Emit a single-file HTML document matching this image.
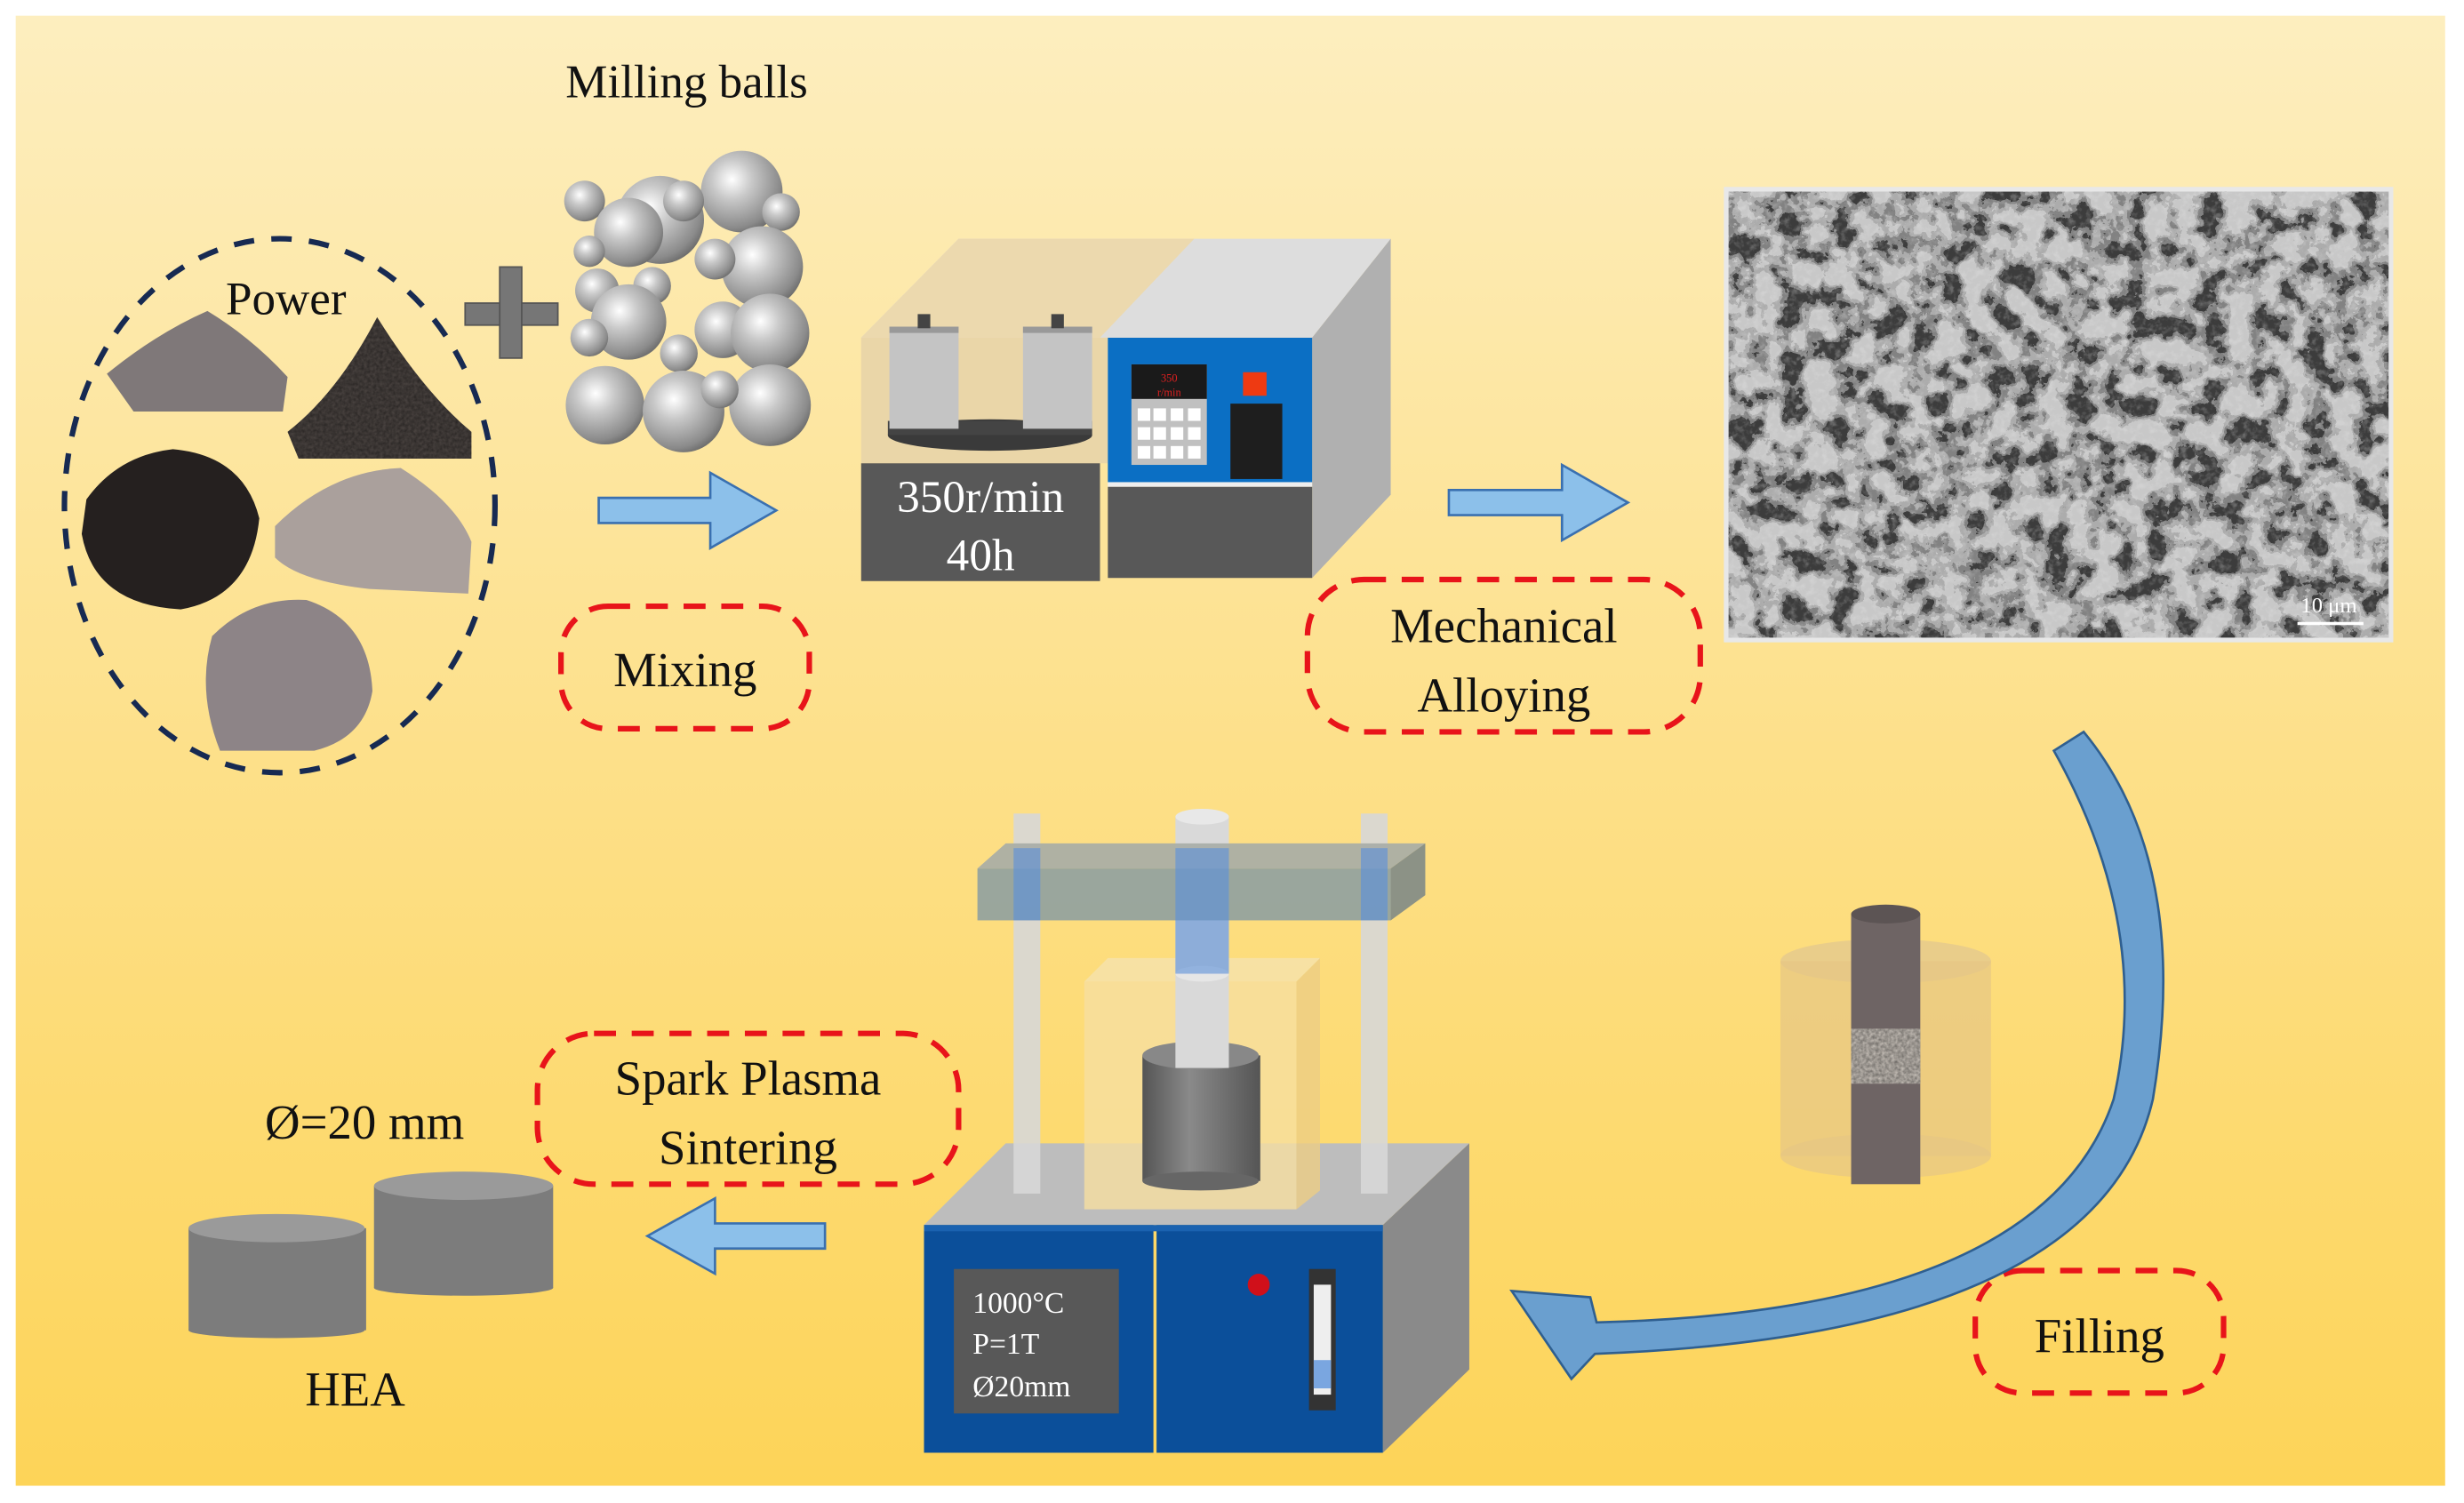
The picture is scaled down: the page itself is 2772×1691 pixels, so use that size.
<!DOCTYPE html>
<html><head><meta charset="utf-8"><style>
html,body{margin:0;padding:0;background:#fff;}
svg{display:block;}
svg text{font-family:"Liberation Serif","DejaVu Serif",serif;}
</style></head><body>
<svg width="2772" height="1691" viewBox="0 0 1568 957" preserveAspectRatio="none" xmlns="http://www.w3.org/2000/svg" font-family="Liberation Serif, DejaVu Serif, serif">
<defs>
<linearGradient id="bg" x1="0" y1="0" x2="0" y2="1">
<stop offset="0" stop-color="#fdeebf"/><stop offset="0.5" stop-color="#fde08a"/><stop offset="1" stop-color="#fdd458"/></linearGradient>
<radialGradient id="ball" cx="0.38" cy="0.35" r="0.7">
<stop offset="0" stop-color="#ffffff"/><stop offset="0.35" stop-color="#c8c8c8"/><stop offset="0.85" stop-color="#8a8a8a"/><stop offset="1" stop-color="#6a6a6a"/></radialGradient>
<linearGradient id="cyl" x1="0" y1="0" x2="1" y2="0">
<stop offset="0" stop-color="#555"/><stop offset="0.4" stop-color="#8a8a8a"/><stop offset="1" stop-color="#555"/></linearGradient>
<filter id="sem" x="0" y="0" width="1" height="1">
<feTurbulence type="fractalNoise" baseFrequency="0.06" numOctaves="5" seed="3"/>
<feColorMatrix type="matrix" values="0 0 0 0 0.58  0 0 0 0 0.58  0 0 0 0 0.58  1.3 1.3 1.3 0 -1.5"/>
<feComponentTransfer><feFuncA type="discrete" tableValues="0 0.5 0.8 1 1"/></feComponentTransfer>
</filter>
<filter id="sem2" x="0" y="0" width="1" height="1">
<feTurbulence type="fractalNoise" baseFrequency="0.25" numOctaves="3" seed="9"/>
<feColorMatrix type="matrix" values="0 0 0 0 0.85  0 0 0 0 0.85  0 0 0 0 0.85  1.5 1.5 1.5 0 -2.1"/>
</filter>
<filter id="grain"><feTurbulence type="fractalNoise" baseFrequency="0.5" numOctaves="2" seed="7"/>
<feColorMatrix type="matrix" values="0 0 0 0 0  0 0 0 0 0  0 0 0 0 0  0 0 0 0.5 0"/>
<feComposite in2="SourceGraphic" operator="in"/></filter>
</defs>
<rect x="10" y="10" width="1546" height="936" fill="url(#bg)"/>

<ellipse cx="178" cy="322" rx="137" ry="170" fill="none" stroke="#172a52" stroke-width="3.5" stroke-dasharray="13 11"/>
<text x="182" y="200" font-size="30" text-anchor="middle" fill="#111">Power</text>
<path d="M68,238 Q100,212 132,198 Q160,215 183,240 L180,262 L85,262 Z" fill="#7f7879"/>
<path d="M183,275 Q215,250 240,202 Q270,250 300,275 L300,292 L190,292 Z" fill="#4e4744"/>
<path d="M183,275 Q215,250 240,202 Q270,250 300,275 L300,292 L190,292 Z" fill="#000" filter="url(#grain)"/>
<path d="M55,318 Q75,290 110,286 Q155,290 165,330 Q160,380 115,388 Q60,385 52,340 Z" fill="#25201f"/>
<path d="M175,335 Q210,300 255,298 Q290,320 300,345 L298,378 L235,375 Q190,370 175,355 Z" fill="#aaa09c"/>
<path d="M135,405 Q160,380 195,382 Q235,395 237,440 Q232,470 200,478 L140,478 Q125,440 135,405 Z" fill="#8d8487"/>

<rect x="296" y="193" width="59" height="14" fill="#767676" stroke="#555" stroke-width="1"/>
<rect x="318" y="170" width="14" height="58" fill="#767676" stroke="#555" stroke-width="1"/>

<text x="437" y="62" font-size="30" text-anchor="middle" fill="#111">Milling balls</text>
<g fill="url(#ball)">
<circle cx="420" cy="140" r="28"/><circle cx="472" cy="122" r="26"/><circle cx="435" cy="128" r="13"/><circle cx="497" cy="135" r="12"/>
<circle cx="372" cy="128" r="13"/><circle cx="400" cy="148" r="22"/><circle cx="375" cy="160" r="10"/><circle cx="485" cy="170" r="26"/>
<circle cx="455" cy="165" r="13"/><circle cx="380" cy="185" r="14"/><circle cx="415" cy="182" r="12"/><circle cx="460" cy="210" r="18"/>
<circle cx="400" cy="205" r="24"/><circle cx="490" cy="212" r="25"/><circle cx="375" cy="215" r="12"/><circle cx="432" cy="225" r="12"/>
<circle cx="385" cy="258" r="25"/><circle cx="435" cy="262" r="26"/><circle cx="490" cy="258" r="26"/><circle cx="458" cy="248" r="12"/>
</g>

<g fill="#8cc0ea" stroke="#3a70b0" stroke-width="1.5">
<path d="M381,317 L452,317 L452,301 L494,325 L452,349 L452,333 L381,333 Z"/>
<path d="M922,312 L994,312 L994,296 L1036,320 L994,344 L994,328 L922,328 Z"/>
<path d="M525,779 L455,779 L455,763 L412,787 L455,811 L455,795 L525,795 Z"/>
</g>

<g fill="none" stroke="#e8141a" stroke-width="3.5" stroke-dasharray="14 10">
<rect x="357" y="386" width="158" height="78" rx="30"/>
<rect x="832" y="369" width="250" height="97" rx="36"/>
<rect x="342" y="658" width="268" height="96" rx="36"/>
<rect x="1257" y="809" width="158" height="78" rx="30"/>
</g>
<g font-size="31" text-anchor="middle" fill="#111">
<text x="436" y="437">Mixing</text>
<text x="957" y="409">Mechanical</text>
<text x="957" y="453">Alloying</text>
<text x="476" y="697">Spark Plasma</text>
<text x="476" y="741">Sintering</text>
<text x="1336" y="861">Filling</text>
<text x="232" y="725">Ø=20 mm</text>
<text x="226" y="895">HEA</text>
</g>

<polygon points="548,215 610,152 885,152 835,215" fill="#ddd"/>
<polygon points="548,215 610,152 760,152 700,215" fill="#ecd9ae"/>
<rect x="548" y="215" width="157" height="80" fill="#ead6a8"/>
<polygon points="835,215 885,152 885,315 835,368" fill="#b0b0b0"/>
<rect x="705" y="215" width="130" height="92" fill="#0b6fc4"/>
<rect x="705" y="210" width="130" height="5" fill="#ddd"/>
<rect x="705" y="307" width="130" height="3" fill="#eee"/>
<rect x="705" y="310" width="130" height="58" fill="#585858"/>
<rect x="720" y="232" width="48" height="64" fill="#c0c0c0"/>
<rect x="720" y="232" width="48" height="22" fill="#1a1a1a"/>
<text x="744" y="243" font-size="7" fill="#e02020" text-anchor="middle">350</text>
<text x="744" y="252" font-size="7" fill="#e02020" text-anchor="middle">r/min</text>
<g fill="#fff"><rect x="724" y="260" width="8" height="8"/><rect x="734" y="260" width="8" height="8"/><rect x="745" y="260" width="8" height="8"/><rect x="756" y="260" width="8" height="8"/>
<rect x="724" y="272" width="8" height="8"/><rect x="734" y="272" width="8" height="8"/><rect x="745" y="272" width="8" height="8"/><rect x="756" y="272" width="8" height="8"/>
<rect x="724" y="284" width="8" height="8"/><rect x="734" y="284" width="8" height="8"/><rect x="745" y="284" width="8" height="8"/><rect x="756" y="284" width="8" height="8"/></g>
<rect x="791" y="237" width="15" height="15" fill="#ee3a12"/>
<rect x="783" y="257" width="33" height="48" fill="#1e1e1e"/>
<ellipse cx="630" cy="277" rx="65" ry="10" fill="#3a3a3a"/>
<rect x="565" y="268" width="130" height="9" fill="#444"/>
<rect x="566" y="208" width="44" height="65" fill="#c4c4c4"/><rect x="566" y="208" width="44" height="4" fill="#999"/>
<rect x="651" y="208" width="44" height="65" fill="#c4c4c4"/><rect x="651" y="208" width="44" height="4" fill="#999"/>
<rect x="584" y="200" width="8" height="9" fill="#444"/><rect x="669" y="200" width="8" height="9" fill="#444"/>
<rect x="548" y="295" width="152" height="75" fill="#585858"/>
<text x="624" y="326" font-size="29" fill="#fff" text-anchor="middle">350r/min</text>
<text x="624" y="363" font-size="29" fill="#fff" text-anchor="middle">40h</text>

<rect x="1097" y="119" width="426" height="290" fill="#e8e8e8"/>
<rect x="1100" y="122" width="420" height="284" fill="#3c3c3c"/>
<rect x="1100" y="122" width="420" height="284" fill="#999" filter="url(#sem)"/>
<rect x="1100" y="122" width="420" height="284" fill="#ccc" filter="url(#sem2)" opacity="0.25"/>
<text x="1482" y="390" font-size="14" fill="#fff" text-anchor="middle">10 μm</text>
<rect x="1462" y="396" width="42" height="2" fill="#fff"/>

<path d="M1307,478 L1326,466 Q1395,550 1370,700 Q1335,850 1015,862 L1000,878 L962,822 L1012,826 L1016,842 Q1300,835 1345,700 Q1370,590 1307,478 Z" fill="#6a9fcf" stroke="#2f5f90" stroke-width="1.5"/>

<ellipse cx="1200" cy="612" rx="67" ry="14" fill="#e3c98d" opacity="0.8"/>
<rect x="1133" y="612" width="134" height="124" fill="#e5c684" opacity="0.7"/>
<ellipse cx="1200" cy="736" rx="67" ry="14" fill="#e5c684" opacity="0.7"/>
<rect x="1178" y="582" width="44" height="172" fill="#6e6464"/>
<ellipse cx="1200" cy="582" rx="22" ry="6" fill="#5c5454"/>
<rect x="1178" y="655" width="44" height="35" fill="#cfc8c0"/>
<rect x="1178" y="655" width="44" height="35" fill="#000" filter="url(#grain)"/>

<rect x="238" y="755" width="114" height="65" fill="#7c7c7c"/><ellipse cx="295" cy="755" rx="57" ry="9" fill="#9a9a9a"/><ellipse cx="295" cy="820" rx="57" ry="5" fill="#7c7c7c"/>
<rect x="120" y="782" width="113" height="65" fill="#7c7c7c"/><ellipse cx="176" cy="782" rx="56" ry="9" fill="#9a9a9a"/><ellipse cx="176" cy="847" rx="56" ry="5" fill="#7c7c7c"/>

<polygon points="588,780 640,728 935,728 880,780" fill="#bdbdbd"/>
<polygon points="880,780 935,728 935,872 880,925" fill="#8a8a8a"/>
<rect x="588" y="780" width="146" height="145" fill="#0b4f9a"/>
<rect x="736" y="780" width="144" height="145" fill="#0b4f9a"/>
<rect x="588" y="780" width="292" height="4" fill="#1a62b0"/>
<rect x="607" y="808" width="105" height="92" fill="#585858"/>
<g font-size="19" fill="#fff"><text x="619" y="836">1000°C</text><text x="619" y="862">P=1T</text><text x="619" y="889">Ø20mm</text></g>
<circle cx="801" cy="818" r="7" fill="#d0101a"/>
<rect x="833" y="808" width="17" height="90" fill="#333"/><rect x="836" y="818" width="11" height="70" fill="#eee"/><rect x="836" y="866" width="11" height="18" fill="#7aa6e0"/>
<rect x="645" y="518" width="17" height="242" fill="#d7d7d7" opacity="0.9"/>
<rect x="866" y="518" width="17" height="242" fill="#d7d7d7" opacity="0.9"/>
<rect x="690" y="625" width="135" height="145" fill="#f6dfa0" opacity="0.8"/>
<polygon points="825,625 840,610 840,758 825,770" fill="#eccd85" opacity="0.8"/>
<polygon points="690,625 705,610 840,610 825,625" fill="#f5e2ae" opacity="0.8"/>
<rect x="727" y="672" width="75" height="80" fill="url(#cyl)"/>
<ellipse cx="764" cy="752" rx="37" ry="6" fill="#666"/>
<ellipse cx="764" cy="672" rx="37" ry="9" fill="#888"/>
<rect x="748" y="520" width="34" height="160" fill="#d9d9d9"/>
<ellipse cx="765" cy="620" rx="17" ry="5" fill="#e6e6e6"/>
<ellipse cx="765" cy="520" rx="17" ry="5" fill="#e8e8e8"/>
<polygon points="622,553 640,537 907,537 885,553" fill="#a6aca6" opacity="0.9"/>
<rect x="622" y="553" width="263" height="33" fill="#8fa0a0" opacity="0.9"/>
<polygon points="885,553 907,537 907,570 885,586" fill="#7f8a86" opacity="0.9"/>
<g fill="#5a8fd8" opacity="0.6"><rect x="645" y="540" width="17" height="46"/><rect x="866" y="540" width="17" height="46"/><rect x="748" y="540" width="34" height="80"/></g>
</svg>
</body></html>
